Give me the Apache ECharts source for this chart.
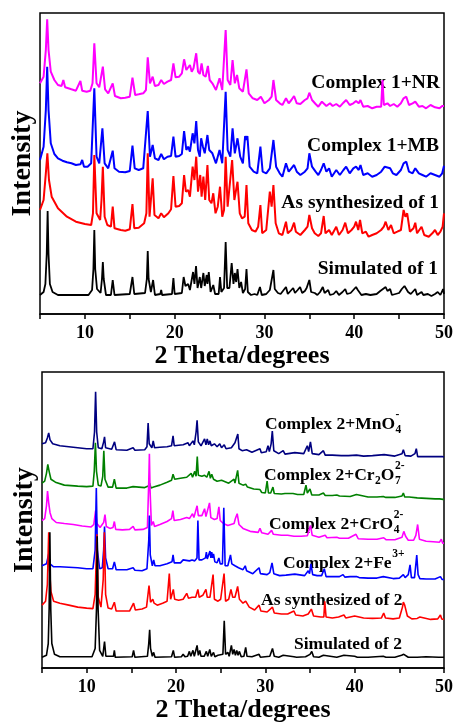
<!DOCTYPE html>
<html>
<head>
<meta charset="utf-8">
<script src="https://cdn.jsdelivr.net/npm/echarts@6/dist/echarts.min.js"></script>
<style>
  html, body { margin: 0; padding: 0; background: #fff; }
  #chart { width: 458px; height: 724px; }
</style>
</head>
<body>
<div id="chart"></div>
<script>
// ---- x axis tick labels (2θ, degrees) ----
const thetaTicks = ['10', '20', '30', '40', '50'];

// ---- Panel 1: complex 1 patterns, [2θ, intensity (a.u., stacked)] ----
const sim1 = [[5.0,19],[5.4,22],[5.6,30],[5.75,60],[5.85,103],[5.95,60],[6.1,30],[6.4,22],[7.0,19],[10.4,19],[10.8,24],[10.95,45],[11.05,84],[11.15,45],[11.35,25],[11.75,21],[11.9,35],[12.0,52],[12.1,35],[12.35,19],[12.9,19],[13.1,34],[13.3,19],[15.0,20],[15.3,37],[15.5,20],[16.7,21],[16.9,35],[17.0,63],[17.1,35],[17.35,22],[17.6,34],[17.8,19],[18.4,20],[18.5,24],[18.6,19],[19.7,20],[19.86,36],[20.0,20],[20.8,21],[21.0,37],[21.2,28],[21.5,30],[21.7,24],[22.05,42],[22.2,30],[22.38,48],[22.55,26],[22.8,37],[22.95,26],[23.2,41],[23.35,28],[23.57,39],[23.65,30],[23.8,42],[24.0,22],[24.3,29],[24.5,20],[24.9,20],[25.05,37],[25.2,22],[25.5,26],[25.68,72],[25.85,26],[26.1,26],[26.35,51],[26.55,30],[26.7,41],[26.85,32],[27.0,45],[27.2,26],[27.4,32],[27.6,21],[27.85,25],[28.0,45],[28.15,22],[28.5,19],[28.9,20],[29.2,19],[29.5,27],[29.7,19],[30.2,20],[30.6,24],[30.8,26],[31.0,44],[31.15,25],[31.5,21],[31.8,20],[32.4,27],[32.6,20],[32.9,23],[33.2,26],[33.4,21],[33.7,24],[33.97,27],[34.2,21],[34.5,23],[34.7,26],[34.85,24],[35.0,34],[35.2,22],[35.6,21],[35.9,19],[36.2,22],[36.5,27],[36.7,21],[37.1,24],[37.3,19],[37.7,20],[38.0,23],[38.3,19],[38.7,22],[39.0,25],[39.2,20],[39.6,21],[39.9,24],[40.2,27],[40.4,24],[40.6,26],[40.8,19],[41.3,20],[41.5,22],[41.8,19],[42.5,20],[42.9,23],[43.1,21],[43.5,27],[43.7,23],[44.0,25],[44.2,19],[44.6,20],[45.0,21],[45.3,25],[45.6,28],[45.8,26],[46.0,22],[46.3,20],[46.8,25],[47.0,19],[47.5,22],[47.7,19],[48.2,20],[48.6,18],[49.0,20],[49.3,22],[49.6,19],[49.9,25],[50.0,20]];

const synth1 = [[5.0,104],[5.4,114],[5.65,140.7],[5.82,160.7],[6.0,134],[6.3,117.3],[7.0,105.7],[8.0,97.3],[9.0,92.3],[10.0,90],[10.7,89],[10.9,100.7],[11.05,159],[11.3,100.7],[11.7,94],[11.85,114],[12.0,147.3],[12.2,97.3],[12.5,89],[12.9,87.3],[13.1,107.3],[13.3,85.7],[14.0,84],[14.5,83.3],[15.0,84.7],[15.3,110],[15.5,85.7],[16.0,86.3],[16.6,90.7],[16.85,100.7],[17.0,160.7],[17.2,97.3],[17.55,135.7],[17.75,99],[18.2,95.7],[18.5,100.7],[18.8,96.7],[19.3,100.7],[19.6,104.7],[19.86,138],[20.1,107.3],[20.5,108],[20.8,110.7],[21.05,139],[21.25,122.3],[21.5,124],[21.7,117.3],[22.0,147.3],[22.2,134],[22.4,157.3],[22.6,122.3],[22.85,139],[23.0,117.3],[23.2,137.3],[23.4,114],[23.65,149],[23.85,114],[24.1,110.7],[24.3,120.7],[24.55,100.7],[24.8,107.3],[25.05,127.3],[25.3,97.3],[25.5,104],[25.68,157.3],[25.9,107.3],[26.1,109],[26.4,154],[26.65,114],[27.0,132.3],[27.25,100.7],[27.5,95.7],[27.8,97.3],[28.0,129],[28.2,90.7],[28.6,84],[29.0,82.3],[29.3,87.3],[29.55,109],[29.75,80.7],[30.2,84],[30.6,122.3],[30.8,107.3],[31.0,129],[31.25,90.7],[31.6,80.7],[32.0,79],[32.4,92.3],[32.6,80.7],[33.0,84],[33.3,91.3],[33.5,82.3],[34.0,79],[34.5,84],[34.8,87.3],[35.0,99],[35.3,85.7],[35.6,80.7],[36.0,78],[36.3,80.7],[36.6,98],[36.8,80.7],[37.2,84],[37.5,79],[38.0,87.3],[38.3,79],[38.7,84],[39.0,91.3],[39.3,80.7],[39.7,84],[40.0,87.3],[40.2,92.3],[40.45,84],[40.65,94],[40.9,80.7],[41.3,82.3],[41.6,77.3],[42.0,79],[42.5,80.7],[43.0,84],[43.3,87.3],[43.5,92.3],[43.8,84],[44.1,89],[44.4,80.7],[44.8,82.3],[45.2,84],[45.5,104],[45.7,97.3],[45.9,100.7],[46.2,82.3],[46.6,85.7],[46.8,91.3],[47.0,80.7],[47.5,87.3],[47.8,79],[48.3,77.3],[48.7,80.7],[49.0,84],[49.3,79],[49.6,82.3],[49.85,87.3],[50.0,100.7]];

const mb1 = [[5.0,154],[5.4,167.3],[5.65,204],[5.8,247.3],[5.95,204],[6.2,170.7],[6.6,160],[7.0,155.7],[7.5,153.3],[8.0,151.7],[8.5,150.7],[9.0,149],[9.5,149.7],[9.7,154],[9.9,147.3],[10.3,147.3],[10.7,150.7],[11.05,225.7],[11.3,157.3],[11.6,150.7],[11.95,185.7],[12.2,150.7],[12.6,145.7],[13.1,163.3],[13.3,145.7],[13.8,142.3],[14.5,141.7],[15.0,143],[15.3,168.3],[15.55,145.7],[16.0,144],[16.5,145.7],[17.0,203],[17.25,157.3],[17.55,169],[17.8,155.7],[18.2,154],[18.5,160],[18.8,154.7],[19.2,157.3],[19.6,158],[19.86,177.3],[20.1,157.3],[20.5,158],[20.8,160],[21.05,183],[21.3,164],[21.5,167.3],[21.7,162.3],[22.0,180.7],[22.2,170.7],[22.4,193],[22.6,164],[22.8,157.3],[22.95,175.7],[23.15,167.3],[23.35,160.7],[23.65,179],[23.85,164],[24.2,160.7],[24.6,150.7],[25.0,164],[25.3,150.7],[25.68,222.3],[25.9,164],[26.2,157.3],[26.45,185.7],[26.7,160.7],[27.0,175.7],[27.3,157.3],[27.6,150.7],[27.85,178],[28.0,174],[28.1,178],[28.35,147.3],[28.8,142.3],[29.2,140.7],[29.55,167.3],[29.8,142.3],[30.2,140.7],[30.6,145.7],[31.0,174],[31.3,147.3],[31.7,140.7],[32.0,137.3],[32.4,150.7],[32.7,142.3],[33.0,145.7],[33.3,149],[33.6,142.3],[34.0,139],[34.5,142.3],[34.8,145.7],[35.0,160.7],[35.3,147.3],[35.7,142.3],[36.0,139],[36.3,144],[36.6,150.7],[36.9,142.3],[37.2,145.7],[37.5,137.3],[38.0,144],[38.4,139],[38.8,144],[39.1,147.3],[39.5,140.7],[39.9,145.7],[40.2,147.3],[40.5,144],[40.7,149],[41.0,139],[41.5,140.7],[42.0,137.3],[42.5,139],[43.0,142.3],[43.4,147.3],[43.6,149],[44.0,145.7],[44.3,140.7],[44.7,139],[45.2,144],[45.5,150.7],[45.8,152.3],[46.1,142.3],[46.5,140.7],[46.8,145.7],[47.2,140.7],[47.6,139],[48.0,137.3],[48.5,140.7],[49.0,139],[49.5,137.3],[49.8,140.7],[50.0,148.3]];

const nr1 = [[5.0,230.7],[5.4,237.3],[5.65,264],[5.8,294.7],[5.95,264],[6.2,242.3],[6.6,234],[7.0,229],[7.4,228],[7.6,234],[7.8,226.7],[8.5,224.7],[9.0,223.3],[9.5,233],[9.7,223.3],[10.2,222.3],[10.6,223.3],[10.85,230.7],[11.05,270.7],[11.3,230.7],[11.6,226.7],[12.0,247.3],[12.25,224.7],[12.6,220.7],[13.1,230.7],[13.35,218],[14.0,215.7],[14.5,216.3],[15.0,217.3],[15.3,236.3],[15.6,219],[16.0,219.7],[16.5,220.7],[16.8,224],[17.0,256.7],[17.25,230.7],[17.55,237.3],[17.8,228],[18.2,229],[18.5,234],[18.8,230],[19.2,232.3],[19.6,234],[19.86,250.7],[20.1,236.7],[20.5,237.3],[20.8,240.7],[21.05,254.7],[21.3,244],[21.5,245.7],[21.7,249],[21.9,242.3],[22.1,245.7],[22.4,260.7],[22.6,242.3],[22.8,240],[23.0,250.7],[23.2,239],[23.45,237.3],[23.7,248],[23.9,234],[24.2,230.7],[24.6,224],[25.0,235.7],[25.3,224],[25.68,284],[25.9,234],[26.2,229],[26.45,254],[26.7,230.7],[26.95,239],[27.2,225.7],[27.6,222.3],[28.0,244.7],[28.25,220.7],[28.7,215.7],[29.2,214],[29.6,217.3],[30.0,210.7],[30.5,214],[30.8,217.3],[31.0,234],[31.3,214],[31.7,210.7],[32.0,209],[32.4,215.7],[32.7,210.7],[33.0,214],[33.3,218],[33.6,210.7],[34.0,210],[34.5,214],[34.8,215.7],[35.0,221.3],[35.3,214],[35.7,210],[36.0,207.3],[36.4,212.3],[36.6,214],[36.9,208],[37.3,210.7],[37.6,208],[38.0,210],[38.4,207.3],[38.8,211.3],[39.1,214],[39.5,209],[39.9,210.7],[40.2,213],[40.5,210.7],[40.7,214],[41.0,207.3],[41.5,208],[42.0,205.7],[42.5,207.3],[43.0,207.3],[43.15,234],[43.3,209],[43.7,210.7],[44.0,208],[44.4,210],[44.8,207.3],[45.2,210.7],[45.5,215.7],[45.8,217.3],[46.1,209],[46.5,210.7],[46.8,212.3],[47.2,207.3],[47.6,208],[48.0,205.7],[48.5,209],[49.0,206.7],[49.5,205.7],[49.8,208],[50.0,208]];

// ---- Panel 2: complex 2 patterns ----
const sim2 = [[5.0,11],[5.5,13],[5.7,25],[5.8,60],[5.88,138],[5.98,60],[6.1,25],[6.4,14],[7.0,11.5],[10.6,11.5],[10.95,20],[11.1,60],[11.18,134],[11.28,60],[11.45,18],[11.8,12],[12.0,27],[12.15,12],[13.0,12],[13.1,18],[13.2,11],[15.1,11.5],[15.25,18],[15.4,11],[16.8,12],[16.95,25],[17.05,39],[17.15,20],[17.35,12],[17.5,16],[17.65,11],[19.5,11.5],[19.7,18],[19.85,11],[20.6,11.5],[20.8,14],[21.0,11.5],[21.3,12],[21.5,17],[21.65,12],[21.9,18],[22.05,12],[22.36,23],[22.5,13],[22.66,18],[22.8,12],[23.0,14],[23.15,12],[23.4,17],[23.55,12],[23.78,19],[23.95,12],[24.2,16],[24.35,11.5],[24.7,13],[24.9,11.5],[25.25,14],[25.4,48],[25.55,14],[25.8,16],[25.95,12],[26.2,23],[26.35,14],[26.5,19],[26.65,13],[26.8,18],[26.95,13],[27.1,17],[27.3,11.5],[27.6,12],[27.8,21],[27.95,12],[28.5,11.5],[29.3,14],[29.45,11],[30.5,12],[30.8,20],[31.0,12],[31.5,11],[32.0,13],[32.2,11],[33.2,11.5],[33.35,13.5],[33.5,11],[34.5,11.5],[35.0,14],[35.2,17],[35.4,11.5],[36.0,11],[36.5,13],[36.7,11],[38.0,11],[38.8,13],[39.0,11],[40.0,12],[40.1,14],[40.3,11],[41.5,11],[43.2,12],[43.35,14],[43.5,11],[44.5,11],[45.25,13],[45.5,14],[45.7,12.5],[46.0,11],[47.0,11],[48.0,11.5],[49.4,11],[49.5,13],[49.6,11],[50.0,11]];

const synth2 = [[5.0,64],[5.4,68],[5.6,85],[5.75,138],[5.85,100],[6.0,78],[6.3,68],[7.0,66],[8.0,64],[9.0,62],[10.0,61],[10.7,60.5],[10.95,75],[11.15,136],[11.3,72],[11.6,62],[11.85,90],[11.98,138],[12.12,75],[12.4,61],[12.8,60],[13.1,67],[13.3,58],[14.0,58],[14.8,58],[15.25,66],[15.45,59],[16.2,60],[16.7,62],[16.98,84],[17.15,67],[17.4,70],[17.55,66],[17.9,64],[18.5,66],[19.0,68],[19.25,96],[19.4,70],[19.7,80],[19.85,70],[20.3,69],[20.8,70],[21.2,76],[21.4,71],[21.8,72],[22.0,73],[22.2,72],[22.45,80],[22.6,72],[23.0,74],[23.35,80],[23.5,72],[23.8,72],[24.0,74],[24.15,95],[24.3,70],[24.7,68],[25.0,70],[25.38,96],[25.55,68],[25.9,70],[26.15,80],[26.35,72],[26.6,72],[26.9,83],[27.1,70],[27.5,66],[27.8,68],[28.2,62],[28.8,59],[29.3,64],[29.5,58],[30.2,57],[30.8,62],[31.0,56],[31.8,55],[32.5,55],[33.2,58],[33.4,54],[34.2,53],[34.8,55],[35.15,60],[35.4,53],[36.2,52],[36.55,52],[36.65,68],[36.8,52],[37.5,51],[38.2,52],[38.8,54],[39.0,51],[40.0,53],[40.2,51],[41.0,51],[42.0,50.5],[43.0,51],[43.25,56],[43.45,51],[44.3,50],[45.0,51],[45.35,62],[45.45,67],[45.6,64],[45.75,65],[45.9,53],[46.4,50],[47.0,50.5],[47.3,52],[47.5,50],[48.5,49.5],[49.3,50],[49.6,54],[49.75,50],[50.0,49.5]];

const fe2 = [[5.0,104],[5.5,106],[5.65,112],[5.75,116],[5.9,106],[6.3,103],[7.0,103],[8.0,102.5],[9.0,102],[10.0,101],[10.7,101],[10.95,120],[11.08,183],[11.2,120],[11.45,101],[11.75,102],[11.9,120],[12.0,144],[12.12,112],[12.4,101],[12.9,101],[13.1,108],[13.3,100],[14.5,100],[15.2,102],[15.4,99.5],[16.2,99],[16.75,101],[16.95,130],[17.02,155],[17.12,115],[17.35,104],[17.5,110],[17.65,104],[18.2,104],[19.0,106],[19.55,108],[19.67,115],[19.8,107],[20.5,107],[20.8,110],[21.0,108],[21.5,109],[21.8,110],[21.95,112],[22.1,109],[22.35,112],[22.45,150],[22.58,110],[22.9,110],[23.3,112],[23.4,118],[23.5,111],[23.7,113],[23.8,119],[23.9,112],[24.0,118],[24.1,112],[24.2,116],[24.35,108],[24.6,107],[24.8,112],[24.95,106],[25.2,106],[25.35,163],[25.5,104],[25.8,104],[26.1,115],[26.25,106],[26.45,108],[26.6,104],[26.8,106],[27.0,102],[27.5,100],[27.75,104],[27.9,99],[28.6,96],[29.3,102],[29.45,96],[30.2,95],[30.5,97],[30.75,107],[30.95,96],[31.6,94],[32.3,94.5],[33.3,95.5],[33.5,94],[34.4,94],[34.8,99],[34.95,96],[35.1,106],[35.3,95],[35.8,94],[36.3,94],[36.6,101],[36.8,93],[37.5,93],[38.3,93],[38.7,95],[38.9,92.5],[39.5,93],[40.2,93],[40.5,92],[41.5,91.5],[42.5,91.5],[43.2,93],[43.4,91],[44.3,91],[45.0,91.5],[45.45,95],[45.65,92],[46.0,95],[46.2,105],[46.35,92],[46.7,92],[46.95,115],[47.1,95],[47.3,91],[48.0,90.5],[49.0,90.5],[49.6,93],[49.8,90],[50.0,90]];

const cro4 = [[5.0,150],[5.3,152],[5.5,165],[5.62,180],[5.75,168],[5.9,158],[6.1,152],[6.6,148],[7.5,147],[8.5,146],[9.5,144.5],[10.5,143.5],[10.8,146],[11.0,160],[11.15,147],[11.5,143],[11.9,148],[12.05,156],[12.2,144],[12.6,142],[12.95,143],[13.1,149],[13.25,141],[14.0,140.5],[14.8,141],[15.2,144],[15.4,140.5],[16.3,141],[16.8,143],[16.95,190],[17.02,218],[17.1,180],[17.25,145],[17.45,149],[17.6,144],[18.2,146],[19.0,149],[19.5,152],[19.65,160],[19.8,150],[20.5,151],[21.2,153],[21.5,152],[21.85,157],[22.0,153],[22.36,165],[22.5,155],[22.9,155],[23.2,162],[23.35,154],[23.55,156],[23.75,168],[23.9,153],[24.3,151],[24.6,152],[24.8,164],[24.95,150],[25.3,147],[25.8,145],[26.0,143],[26.5,147],[26.65,152],[26.85,157],[27.05,146],[27.5,142],[28.3,139],[29.2,138],[29.4,142],[29.6,137.5],[30.3,136],[30.7,140],[30.9,136],[31.8,135],[32.5,135],[33.2,134],[34.0,134],[34.7,134.5],[35.05,145],[35.25,135],[36.0,133],[36.7,135],[36.9,132.5],[38.0,133],[38.3,132],[39.3,132],[40.15,136],[40.4,131.5],[41.5,131],[42.5,131],[43.25,132.5],[43.5,130.5],[44.5,130.5],[45.3,133],[45.5,139],[45.7,134],[46.0,130],[46.6,130],[46.85,135],[47.05,146],[47.25,131],[48.0,129],[48.8,128.5],[49.5,128],[49.7,131],[49.85,127],[50.0,127]];

const cr2o7 = [[5.0,188],[5.3,190],[5.5,198],[5.65,207],[5.8,200],[6.0,192],[6.5,189],[7.5,186],[9.0,185],[10.0,184.5],[10.7,185],[10.85,200],[10.98,229],[11.1,200],[11.3,186],[11.6,185],[11.8,195],[11.92,221],[12.05,192],[12.4,184],[12.9,184],[13.1,192],[13.3,183],[14.5,183],[15.2,184.5],[15.4,183],[16.5,183.5],[16.9,185],[17.05,188],[17.2,183],[17.5,184],[18.2,186],[19.0,189],[19.5,191],[19.67,197],[19.85,192],[20.5,193],[21.2,194],[21.7,198],[21.85,194],[22.1,200],[22.25,195],[22.38,215],[22.5,196],[22.9,195],[23.2,196],[23.45,194],[23.7,200],[23.85,193],[24.0,197],[24.2,192],[24.6,190],[25.1,191],[25.3,189],[25.9,188],[26.5,192],[26.6,188],[26.9,201],[27.05,188],[27.5,186],[27.8,187],[28.0,184],[28.7,182],[29.4,181.5],[29.6,178.5],[30.0,178],[30.2,190],[30.35,178],[30.6,178],[30.85,184],[31.0,177.5],[31.8,177],[32.2,177.5],[33.1,177.5],[33.6,176.5],[34.3,176.5],[34.55,186],[34.7,178],[35.0,182],[35.2,176],[36.0,176],[36.5,178],[36.7,175.5],[37.5,175.5],[38.0,176],[38.3,175],[39.5,174.5],[40.2,176.5],[40.4,174.5],[41.5,174],[42.5,174],[43.2,174.5],[43.5,173.5],[44.5,173.5],[45.3,175],[45.45,178],[45.6,174],[46.1,174],[46.3,173],[47.0,173],[48.0,172.5],[49.0,172],[49.5,172],[49.9,171.5],[50.0,171]];

const mno4 = [[5.0,228],[5.4,229],[5.6,234],[5.75,239],[5.9,232],[6.2,228],[7.0,226],[8.5,224.5],[10.0,223],[10.7,223],[10.88,240],[11.0,281],[11.12,240],[11.3,224],[11.7,223],[11.9,230],[12.0,235],[12.12,224],[12.8,222.5],[13.12,230],[13.3,222],[14.5,221.5],[15.2,224],[15.4,221.5],[16.5,222],[16.75,225],[16.88,249],[17.0,228],[17.3,224],[17.45,231],[17.6,224],[18.2,224.5],[19.0,225],[19.5,226],[19.67,236],[19.8,226],[20.8,227],[21.35,229],[21.5,226],[21.9,231],[22.05,227],[22.25,240],[22.36,252],[22.5,230],[22.8,226],[23.2,233],[23.35,227],[23.5,233],[23.65,227],[23.8,231],[23.95,226],[24.3,228],[24.6,225],[24.9,228],[25.1,224],[25.4,227],[25.6,223],[26.2,224],[26.6,229],[26.75,227],[26.92,238],[27.05,223],[27.4,221],[27.9,222],[28.5,219.5],[29.4,223],[29.55,219],[30.1,220],[30.3,226],[30.45,220],[30.65,228],[30.78,241],[30.95,221],[31.5,218],[32.0,221],[32.2,217.5],[33.3,219],[33.5,217.5],[34.3,218],[34.7,226],[34.85,220],[35.05,230],[35.25,218],[36.0,217],[36.5,221],[36.7,216.5],[37.5,216.5],[38.5,216],[39.3,216],[40.2,216.5],[41.0,215.5],[42.0,216],[43.3,217],[43.5,215.5],[44.5,215.5],[45.3,218],[45.45,222],[45.65,216],[46.3,215.5],[46.75,218],[46.9,223],[47.05,215],[48.0,215],[49.0,215],[49.8,215],[50.0,214.5]];

// ---- Curve labels: [text, kind] where kind is normal / sub / sup ----
const labels1 = ['Complex 1+NR', 'Complex 1+MB', 'As synthesized of 1', 'Simulated of 1'];
const labels2 = [
  [['Complex 2+MnO', 'n'], ['4', 'sub'], ['-', 'sup']],
  [['Complex 2+Cr', 'n'], ['2', 'sub'], ['O', 'n'], ['7', 'sub'], ['2-', 'sup']],
  [['Complex 2+CrO', 'n'], ['4', 'sub'], ['2-', 'sup']],
  [['Complex 2+Fe', 'n'], ['3+', 'sup']],
  [['As synthesized of 2', 'n']],
  [['Simulated of 2', 'n']]
];

const FAMILY = '"Liberation Serif", "Times New Roman", serif';
const chart = echarts.init(document.getElementById('chart'), null, { renderer: 'canvas' });

const measureCtx = document.createElement('canvas').getContext('2d');
function textWidth(str, size) {
  measureCtx.font = 'bold ' + size + 'px ' + FAMILY;
  return measureCtx.measureText(str).width;
}
function textEl(str, x, y, size, align) {
  return {
    type: 'text', x: x, y: y, silent: true,
    style: {
      text: str, fill: '#000',
      font: 'bold ' + size + 'px ' + FAMILY,
      align: align || 'left', verticalAlign: 'middle',
      textAlign: align || 'left', textVerticalAlign: 'middle'
    }
  };
}
// Lays out a label with chemical sub/superscripts; a superscript following a
// subscript is stacked above it.
function chemLabel(parts, x, y, size, small) {
  const out = [];
  let cx = x, subStart = null;
  parts.forEach(function (p) {
    const t = p[0], kind = p[1];
    if (kind === 'n') {
      out.push(textEl(t, cx, y, size));
      cx += textWidth(t, size);
      subStart = null;
    } else if (kind === 'sub') {
      subStart = cx + 0.5;
      out.push(textEl(t, subStart, y + 6, small));
      cx = subStart + textWidth(t, small);
    } else {
      const sx = subStart !== null ? subStart : cx + 0.5;
      out.push(textEl(t, sx, y - 9, small));
      cx = Math.max(cx, sx + textWidth(t, small));
      subStart = null;
    }
  });
  return out;
}

const graphics = [];
const pos1 = [[440, 83], [439, 146], [439, 203], [438, 269]];
labels1.forEach(function (t, i) { graphics.push(textEl(t, pos1[i][0], pos1[i][1], 19.5, 'right')); });
const pos2 = [[265, 424], [264, 475], [269, 524], [283, 563], [261, 600], [294, 644]];
labels2.forEach(function (parts, i) {
  chemLabel(parts, pos2[i][0], pos2[i][1], 17.5, 11.5).forEach(function (e) { graphics.push(e); });
});

function xAxisFor(gi) {
  return {
    gridIndex: gi, type: 'value', min: 5, max: 50, interval: 5,
    axisLine: { show: true, onZero: false, lineStyle: { color: '#000', width: 1.5 } },
    axisTick: { show: true, inside: false, length: 5, lineStyle: { color: '#000', width: 1.5 } },
    splitLine: { show: false },
    axisLabel: {
      color: '#000', fontFamily: FAMILY, fontWeight: 'bold', fontSize: 18, margin: 10,
      formatter: function (v) { return thetaTicks.indexOf(String(v)) >= 0 ? String(v) : ''; }
    },
    name: '2 Theta/degrees', nameLocation: 'middle', nameGap: 24,
    nameTextStyle: { color: '#000', fontFamily: FAMILY, fontWeight: 'bold', fontSize: 26 }
  };
}
function yAxisFor(gi, max) {
  return {
    gridIndex: gi, type: 'value', min: 0, max: max,
    axisLine: { show: false }, axisTick: { show: false }, axisLabel: { show: false },
    splitLine: { show: false },
    name: 'Intensity', nameLocation: 'middle', nameRotate: 90, nameGap: 3,
    nameTextStyle: { color: '#000', fontFamily: FAMILY, fontWeight: 'bold', fontSize: 28 }
  };
}
function line(data, color, gi, w) {
  return {
    type: 'line', data: data, xAxisIndex: gi, yAxisIndex: gi,
    showSymbol: false, symbol: 'none', smooth: false, silent: true,
    lineStyle: { color: color, width: w }, itemStyle: { color: color }
  };
}

chart.setOption({
  animation: false,
  backgroundColor: '#fff',
  grid: [
    { left: 40, top: 13, width: 404, height: 301, show: true, borderColor: '#000', borderWidth: 1.5, backgroundColor: 'transparent' },
    { left: 42, top: 372, width: 402, height: 301, show: true, borderColor: '#000', borderWidth: 1.5, backgroundColor: 'transparent' }
  ],
  xAxis: [xAxisFor(0), xAxisFor(1)],
  yAxis: [yAxisFor(0, 301), yAxisFor(1, 301)],
  series: [
    line(nr1, '#ff00ff', 0, 2),
    line(mb1, '#0000ff', 0, 2),
    line(synth1, '#ff0000', 0, 2),
    line(sim1, '#000000', 0, 1.8),
    line(mno4, '#000080', 1, 1.6),
    line(cr2o7, '#008000', 1, 1.6),
    line(cro4, '#ff00ff', 1, 1.6),
    line(fe2, '#0000ff', 1, 1.6),
    line(synth2, '#ff0000', 1, 1.6),
    line(sim2, '#000000', 1, 1.6)
  ],
  graphic: graphics
});
</script>
</body>
</html>
